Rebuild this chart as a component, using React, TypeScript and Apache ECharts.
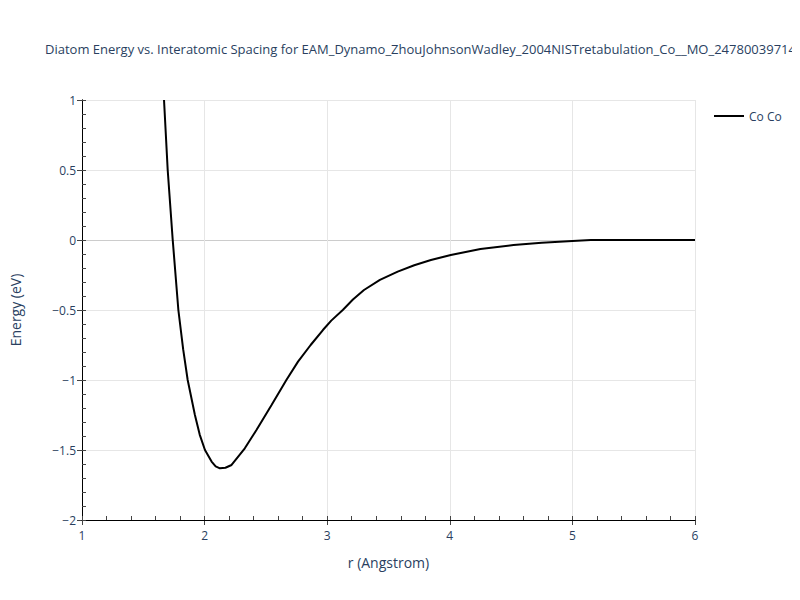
import React, { useEffect, useRef } from "react";
import * as echarts from "echarts";

const titleText =
  "Diatom Energy vs. Interatomic Spacing for EAM_Dynamo_ZhouJohnsonWadley_2004NISTretabulation_Co__MO_247800397145_000";
const seriesName = "Co Co";
const rValues = [
  1.669, 1.699, 1.74, 1.786, 1.825, 1.862, 1.921, 1.96, 2.003, 2.057, 2.09, 2.125, 2.17, 2.22,
  2.328, 2.423, 2.545, 2.667, 2.762, 2.865, 2.965, 3.033, 3.127, 3.21, 3.3, 3.43, 3.575, 3.71,
  3.846, 4.008, 4.25, 4.52, 4.75, 5.0, 5.15, 5.5, 6.0,
];
const energyValues = [
  1.0, 0.5, 0.0, -0.5, -0.78, -1.0, -1.25, -1.39, -1.5, -1.583, -1.617, -1.631, -1.627, -1.607,
  -1.488, -1.357, -1.18, -1.0, -0.869, -0.75, -0.643, -0.576, -0.5, -0.425, -0.357, -0.285,
  -0.226, -0.18, -0.143, -0.107, -0.065, -0.036, -0.02, -0.007, 0.0, 0.0, 0.0,
];
const xTickLabels = ["1", "2", "3", "4", "5", "6"];
const yTickLabels = ["−2", "−1.5", "−1", "−0.5", "0", "0.5", "1"];

const FONT = "'Open Sans', Verdana, Arial, sans-serif";
const TXT = "#2a3f5f";

export default function App() {
  const ref = useRef<HTMLDivElement>(null);
  useEffect(() => {
    if (!ref.current) return;
    const chart = echarts.init(ref.current, null, { renderer: "svg" });
    const data = rValues.map((r, i) => [r, energyValues[i]]);
    chart.setOption({
      animation: false,
      backgroundColor: "#fff",
      textStyle: { fontFamily: FONT },
      title: {
        text: titleText,
        left: 40,
        top: 37,
        textStyle: { fontSize: 13, fontWeight: "normal", color: TXT, fontFamily: FONT },
      },
      legend: {
        data: [{ name: seriesName, icon: "rect" }],
        left: 709,
        top: 105,
        itemWidth: 30,
        itemHeight: 2,
        itemGap: 6,
        textStyle: { fontSize: 12, color: TXT, fontFamily: FONT },
      },
      grid: { left: 80, right: 105, top: 100, bottom: 80, containLabel: false },
      xAxis: [
        {
          type: "value",
          min: 1,
          max: 6,
          interval: 1,
          position: "bottom",
          name: "r (Angstrom)",
          nameLocation: "middle",
          nameGap: 35,
          nameTextStyle: { fontSize: 14, color: TXT, fontFamily: FONT },
          axisLine: { show: true, onZero: false, lineStyle: { color: "#000", width: 1 } },
          axisTick: { show: true, inside: false, length: 5, lineStyle: { color: "#444" } },
          axisLabel: {
            fontSize: 12,
            color: TXT,
            margin: 9,
            formatter: (v: number) => xTickLabels[Math.round(v) - 1] ?? "",
          },
          splitLine: { show: true, lineStyle: { color: "#e6e6e6", width: 1 } },
        },
        {
          type: "value",
          min: 1,
          max: 6,
          interval: 0.2,
          position: "bottom",
          offset: 0,
          z: 3,
          axisLine: { show: true, onZero: false, lineStyle: { color: "#000", width: 1 } },
          axisTick: { show: true, inside: true, length: 4, lineStyle: { color: "#444" } },
          axisLabel: { show: false },
          splitLine: { show: false },
        },
      ],
      yAxis: [
        {
          type: "value",
          min: -2,
          max: 1,
          interval: 0.5,
          position: "left",
          name: "Energy (eV)",
          nameLocation: "middle",
          nameGap: 60,
          nameTextStyle: { fontSize: 14, color: TXT, fontFamily: FONT },
          axisLine: { show: true, onZero: false, lineStyle: { color: "#000", width: 1 } },
          axisTick: { show: true, inside: false, length: 5, lineStyle: { color: "#444" } },
          axisLabel: {
            fontSize: 12,
            color: TXT,
            margin: 6,
            formatter: (v: number) => yTickLabels[Math.round((v + 2) * 2)] ?? "",
          },
          splitLine: {
            show: true,
            lineStyle: {
              color: ["#e6e6e6", "#e6e6e6", "#e6e6e6", "#e6e6e6", "#cccccc", "#e6e6e6", "#e6e6e6"],
              width: 1,
            },
          },
        },
        {
          type: "value",
          min: -2,
          max: 1,
          interval: 0.1,
          position: "left",
          offset: 0,
          z: 3,
          axisLine: { show: true, onZero: false, lineStyle: { color: "#000", width: 1 } },
          axisTick: { show: true, inside: true, length: 4, lineStyle: { color: "#444" } },
          axisLabel: { show: false },
          splitLine: { show: false },
        },
      ],
      series: [
        {
          name: seriesName,
          type: "line",
          xAxisIndex: 0,
          yAxisIndex: 0,
          data,
          showSymbol: false,
          smooth: false,
          clip: true,
          lineStyle: { color: "#000", width: 2 },
          itemStyle: { color: "#000" },
        },
      ],
    });
    return () => chart.dispose();
  }, []);
  return <div ref={ref} style={{ width: 800, height: 600, margin: -8 }} />;
}
